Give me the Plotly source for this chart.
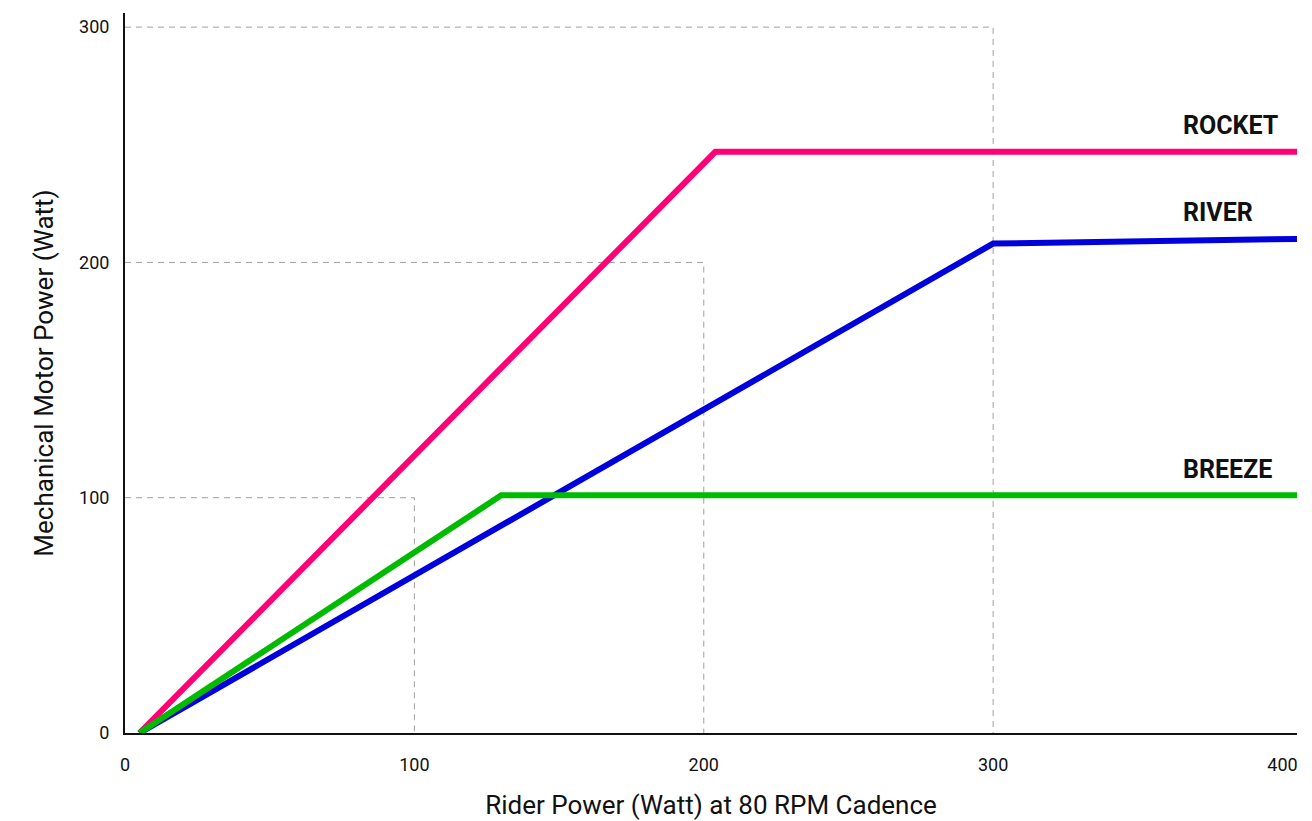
import plotly.graph_objects as go

# Data
series_names = ["ROCKET", "RIVER", "BREEZE"]
series_colors = ["#FF0077", "#0000DD", "#00BB00"]
rocket_x = [5, 204, 405]
rocket_y = [0, 247, 247]
river_x = [5, 300, 405]
river_y = [0, 208, 210]
breeze_x = [5, 130, 405]
breeze_y = [0, 101, 101]
x_ticks = [0, 100, 200, 300, 400]
y_ticks = [0, 100, 200, 300]
ref_levels = [100, 200, 300]
label_x = 365
label_offset = 4

xs = [rocket_x, river_x, breeze_x]
ys = [rocket_y, river_y, breeze_y]

fig = go.Figure()

# Dashed L-shaped reference lines
for v in ref_levels:
    fig.add_trace(go.Scatter(
        x=[0, v, v], y=[v, v, 0], mode="lines",
        line=dict(color="#A0A0A0", width=1, dash="6px,5px"),
        hoverinfo="skip", showlegend=False))

for name, c, x, y in zip(series_names, series_colors, xs, ys):
    fig.add_trace(go.Scatter(
        x=x, y=y, mode="lines", name=name,
        line=dict(color=c, width=6), showlegend=False))
    fig.add_annotation(
        x=label_x, y=y[-1] + label_offset, text="<b>" + name + "</b>",
        showarrow=False, xanchor="left", yanchor="bottom",
        font=dict(family="Roboto", size=25, color="#111111"))

fig.update_layout(
    width=1312, height=821,
    margin=dict(l=125, r=15, t=13, b=88),
    plot_bgcolor="white", paper_bgcolor="white",
    font=dict(family="Roboto", color="#111111"),
)
title_font = dict(family="Roboto", size=26, color="#111111")
fig.update_xaxes(
    range=[0, 405], tickvals=x_ticks, showgrid=False, zeroline=False,
    showline=True, linecolor="#111111", linewidth=2, automargin=False,
    ticks="", ticklabelstandoff=14, tickfont=dict(size=18),
    title=dict(text="Rider Power (Watt) at 80 RPM Cadence",
               font=title_font, standoff=22))
fig.update_yaxes(
    range=[0, 306], tickvals=y_ticks, showgrid=False, zeroline=False,
    showline=True, linecolor="#111111", linewidth=2, automargin=False,
    ticks="", ticklabelstandoff=10, tickfont=dict(size=18),
    title=dict(text="Mechanical Motor Power (Watt)",
               font=title_font, standoff=18))

fig.write_html("out.html", config={"displayModeBar": False},
               post_script="document.body.style.margin='0';document.body.style.overflow='hidden';")
